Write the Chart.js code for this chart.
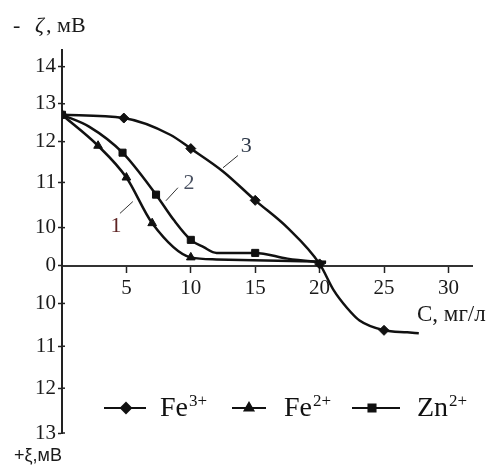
<!DOCTYPE html>
<html>
<head>
<meta charset="utf-8">
<script src="https://cdn.jsdelivr.net/npm/chart.js"></script>
<style>
    body { margin: 0; background: #fff; }
    #wrap { width: 492px; height: 466px; }
</style>
</head>
<body>
<div id="wrap"><canvas id="zetaChart" width="492" height="466"></canvas></div>
<script>
// C, mg/l  and  zeta in axis slots (the axis is broken between 0 and 10 mV)
const fe3C = [0, 4.8, 8.4, 10, 12.5, 15, 17.5, 20, 21.1, 22.1, 23.1, 25, 26.8, 27.7];
const fe3Z = [3.71, 3.63, 3.22, 2.88, 2.32, 1.61, 0.94, 0.05, -0.6, -1.02, -1.34, -1.58, -1.63, -1.65];
const fe3Marks = [0, 4.8, 10, 15, 20, 25];

const fe2C = [0, 2.8, 5, 7, 10, 12, 20.5];
const fe2Z = [3.71, 2.95, 2.17, 1.05, 0.21, 0.16, 0.1];
const fe2Marks = [0, 2.8, 5, 7, 10];

const znC = [0, 2.1, 4.7, 7.3, 8.7, 10, 11, 12, 15, 17.5, 20.5];
const znZ = [3.71, 3.42, 2.78, 1.75, 1.12, 0.64, 0.46, 0.32, 0.32, 0.18, 0.08];
const znMarks = [0, 4.7, 7.3, 10, 15];

const xTicks = [5, 10, 15, 20, 25, 30];
const yTickPos = [4.89, 3.98, 3.05, 2.05, 0.94, 0, -0.92, -1.97, -3.0, -4.1];
const yTickLabels = ['14', '13', '12', '11', '10', '0', '10', '11', '12', '13'];

const ionNames = ['Fe', 'Fe', 'Zn'];
const ionCharges = ['3+', '2+', '2+'];

// curve numbers: text, where it sits, leader line (x, slot)
const curveNumbers = ['3', '2', '1'];
const curveNumberAt = [[14.3, 2.93], [9.86, 2.02], [4.19, 0.97]];
const leaderFrom = [[12.5, 2.41], [8.07, 1.6], [5.5, 1.58]];
const leaderTo = [[13.66, 2.71], [9.0, 1.92], [4.5, 1.29]];

const toPoints = (xs, ys) => xs.map((x, i) => ({ x: x, y: ys[i] }));
const markRadius = marks => ctx => (ctx.raw && marks.includes(ctx.raw.x)) ? 5 : 0;

const lineStyle = {
    borderColor: '#111',
    backgroundColor: '#111',
    pointBackgroundColor: '#111',
    pointBorderColor: '#111',
    borderWidth: 2.5,
    pointBorderWidth: 1,
    pointHoverRadius: 0,
    cubicInterpolationMode: 'monotone',
    fill: false
};

const overlay = {
    id: 'overlay',
    afterDraw(chart) {
        const { ctx } = chart;
        const x = chart.scales.x;
        const y = chart.scales.y;
        ctx.save();

        // y ticks also poke to the right of the axis
        ctx.strokeStyle = '#222';
        ctx.lineWidth = 1.5;
        yTickPos.forEach(v => {
            if (v === 0) return;
            const py = y.getPixelForValue(v);
            ctx.beginPath();
            ctx.moveTo(x.left, py);
            ctx.lineTo(x.left + 3, py);
            ctx.stroke();
        });

        // curve numbers with leader lines
        const numColors = ['#2f3a4a', '#4a5262', '#5e2424'];
        ctx.lineWidth = 1;
        ctx.font = '22px "Liberation Serif"';
        ctx.textAlign = 'center';
        ctx.textBaseline = 'middle';
        curveNumbers.forEach((t, i) => {
            ctx.strokeStyle = '#333';
            ctx.beginPath();
            ctx.moveTo(x.getPixelForValue(leaderFrom[i][0]), y.getPixelForValue(leaderFrom[i][1]));
            ctx.lineTo(x.getPixelForValue(leaderTo[i][0]), y.getPixelForValue(leaderTo[i][1]));
            ctx.stroke();
            ctx.fillStyle = numColors[i];
            ctx.fillText(t, x.getPixelForValue(curveNumberAt[i][0]), y.getPixelForValue(curveNumberAt[i][1]));
        });

        // axis captions
        ctx.fillStyle = '#1a1a1a';
        ctx.textAlign = 'left';
        ctx.textBaseline = 'alphabetic';
        ctx.font = '22px "Liberation Serif"';
        ctx.fillText('-', 13, 32);
        ctx.font = 'italic 22px "Liberation Serif"';
        ctx.fillText('ζ', 35, 32);
        ctx.font = '22px "Liberation Serif"';
        ctx.fillText(', мВ', 46, 32);
        ctx.font = '23px "Liberation Serif"';
        ctx.fillText('C, мг/л', 417, 321);
        ctx.font = '18px "Liberation Sans"';
        ctx.fillText('+ξ,мВ', 14, 461);

        // legend
        const legendY = 408;
        const spots = [
            { x0: 104, x1: 146, mx: 126, tx: 160 },
            { x0: 232, x1: 266, mx: 249, tx: 284 },
            { x0: 352, x1: 400, mx: 372, tx: 417 }
        ];
        chart.data.datasets.forEach((ds, i) => {
            const s = spots[i];
            ctx.strokeStyle = '#111';
            ctx.fillStyle = '#111';
            ctx.lineWidth = 2;
            ctx.beginPath();
            ctx.moveTo(s.x0, legendY);
            ctx.lineTo(s.x1, legendY);
            ctx.stroke();
            Chart.helpers.drawPoint(ctx, { pointStyle: ds.pointStyle, radius: 5, borderWidth: 1, rotation: 0 }, s.mx, legendY);
            ctx.font = '28px "Liberation Serif"';
            ctx.fillText(ionNames[i], s.tx, 416);
            const w = ctx.measureText(ionNames[i]).width;
            ctx.font = '17px "Liberation Serif"';
            ctx.fillText(ionCharges[i], s.tx + w + 1, 406);
        });

        ctx.restore();
    }
};

Chart.defaults.font.family = '"Liberation Serif", serif';
Chart.defaults.color = '#1a1a1a';

new Chart(document.getElementById('zetaChart'), {
    type: 'line',
    data: {
        datasets: [
            { label: 'Fe3+', data: toPoints(fe3C, fe3Z), pointStyle: 'rectRot', pointRadius: markRadius(fe3Marks), ...lineStyle },
            { label: 'Fe2+', data: toPoints(fe2C, fe2Z), pointStyle: 'triangle', pointRadius: markRadius(fe2Marks), ...lineStyle },
            { label: 'Zn2+', data: toPoints(znC, znZ), pointStyle: 'rect', pointRadius: markRadius(znMarks), ...lineStyle }
        ]
    },
    options: {
        responsive: false,
        animation: false,
        layout: { padding: { left: 0, top: 50, right: 20, bottom: 33 } },
        plugins: {
            legend: { display: false },
            tooltip: { enabled: false }
        },
        scales: {
            x: {
                type: 'linear',
                min: 0,
                max: 31.83,
                position: { y: 0 },
                afterBuildTicks: s => { s.ticks = xTicks.map(v => ({ value: v })); },
                grid: { drawOnChartArea: false, tickLength: 6, tickColor: '#222', tickWidth: 1.5 },
                border: { color: '#333', width: 2 },
                ticks: { font: { size: 21 }, padding: 4, autoSkip: false, maxRotation: 0, callback: v => String(v) }
            },
            y: {
                type: 'linear',
                min: -4.1,
                max: 5.3,
                bounds: 'data',
                afterBuildTicks: s => { s.ticks = yTickPos.map(v => ({ value: v })); },
                afterFit: s => { s.width = 62; },
                grid: { drawOnChartArea: false, tickLength: 4, tickColor: '#222', tickWidth: 1.5 },
                border: { color: '#222', width: 2 },
                ticks: { font: { size: 21 }, padding: 2, autoSkip: false, callback: (v, i) => yTickLabels[i] }
            }
        }
    },
    plugins: [overlay]
});
</script>
</body>
</html>
